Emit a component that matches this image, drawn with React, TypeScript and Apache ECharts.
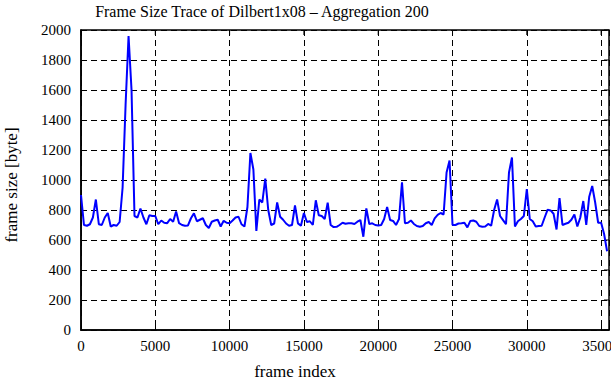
import React, { useEffect, useRef } from "react";
import * as echarts from "echarts";

const TITLE = "Frame Size Trace of Dilbert1x08 \u2013 Aggregation 200";
const X_NAME = "frame index";
const Y_NAME = "frame size [byte]";
const AGGREGATION = 200;
const X_MAX = 35530;
const Y_MAX = 2000;
const xTicks = [0, 5000, 10000, 15000, 20000, 25000, 30000, 35000];
const yTicks = [0, 200, 400, 600, 800, 1000, 1200, 1400, 1600, 1800, 2000];

// aggregated frame sizes (one value per 200 frames)
const frameSizes = [
  900, 700, 695, 705, 750, 870, 705, 700, 750, 780,
  690, 700, 695, 720, 950, 1500, 1960, 1600, 760, 750,
  810, 750, 705, 765, 760, 760, 705, 730, 715, 712,
  740, 722, 790, 712, 700, 695, 697, 745, 778, 725,
  735, 745, 700, 680, 722, 730, 735, 690, 728, 715,
  712, 730, 750, 755, 705, 690, 820, 1180, 1070, 660,
  870, 850, 1010, 800, 700, 710, 850, 755, 735, 710,
  695, 700, 830, 711, 695, 780, 720, 725, 700, 865,
  765, 760, 740, 849, 700, 686, 688, 700, 715, 708,
  711, 711, 707, 722, 733, 622, 811, 707, 711, 700,
  697, 700, 740, 820, 733, 727, 700, 740, 985, 712,
  715, 730, 707, 693, 689, 693, 712, 720, 700, 744,
  767, 780, 770, 1050, 1130, 700, 700, 710, 712, 715,
  684, 727, 730, 722, 693, 689, 690, 707, 695, 800,
  870, 760, 733, 705, 1050, 1150, 690, 725, 740, 760,
  940, 740, 725, 690, 693, 695, 750, 802, 797, 775,
  670, 880, 700, 708, 715, 735, 770, 690, 750, 860,
  700, 889, 960, 850, 715, 715, 640, 525,
];

const FONT = "Liberation Serif";

export default function App() {
  const ref = useRef<HTMLDivElement>(null);
  useEffect(() => {
    if (!ref.current) return;
    const chart = echarts.init(ref.current, undefined, { renderer: "svg" });
    const data = frameSizes.map((v, i) => [i * AGGREGATION, v]);
    chart.setOption({
      animation: false,
      backgroundColor: "#fff",
      grid: {
        left: 81, right: 2, top: 30, bottom: 50,
        show: true, borderColor: "#000", borderWidth: 1.5, backgroundColor: "transparent",
      },
      xAxis: {
        type: "value", min: 0, max: X_MAX, interval: 5000,
        axisLine: { show: true, lineStyle: { color: "#000", width: 1.5 } },
        axisTick: { show: true, inside: true, length: 5, lineStyle: { color: "#000", width: 1 } },
        splitLine: { show: true, lineStyle: { color: "#000", width: 1, type: [6, 4] } },
        axisLabel: { show: false },
      },
      yAxis: {
        type: "value", min: 0, max: Y_MAX, interval: 200,
        axisLine: { show: true, lineStyle: { color: "#000", width: 1.5 } },
        axisTick: { show: true, inside: true, length: 5, lineStyle: { color: "#000", width: 1 } },
        splitLine: { show: true, lineStyle: { color: "#000", width: 1, type: [6, 4] } },
        axisLabel: { show: false },
      },
      series: [
        {
          type: "line", data, showSymbol: false,
          lineStyle: { color: "#0000ff", width: 2 }, itemStyle: { color: "#0000ff" },
          z: 5,
        },
      ],
    });

    // tick labels and mirrored ticks, positioned through the chart's own scales
    const px = (v: number) => chart.convertToPixel({ xAxisIndex: 0 }, v) as number;
    const py = (v: number) => chart.convertToPixel({ yAxisIndex: 0 }, v) as number;
    const x0 = px(0);
    const x1 = px(X_MAX);
    const y0 = py(0);
    const y1 = py(Y_MAX);
    const textStyle = { fontFamily: FONT, fontSize: 15, fill: "#000" };
    const elements: any[] = [];
    xTicks.forEach((v) => {
      const x = px(v);
      elements.push({
        type: "text", x, y: y0 + 8, silent: true,
        style: { ...textStyle, text: String(v), textAlign: "center", textVerticalAlign: "top" },
      });
      elements.push({
        type: "line", silent: true,
        shape: { x1: x, y1: y1, x2: x, y2: y1 + 5 },
        style: { stroke: "#000", lineWidth: 1 },
      });
    });
    yTicks.forEach((v) => {
      const y = py(v);
      elements.push({
        type: "text", x: x0 - 10, y, silent: true,
        style: { ...textStyle, text: String(v), textAlign: "right", textVerticalAlign: "middle" },
      });
      elements.push({
        type: "line", silent: true,
        shape: { x1: x1, y1: y, x2: x1 - 5, y2: y },
        style: { stroke: "#000", lineWidth: 1 },
      });
    });
    elements.push(
      {
        type: "text", x: 262, y: 11,
        style: { text: TITLE, fontFamily: FONT, fontSize: 16, fill: "#000", textAlign: "center", textVerticalAlign: "middle" },
      },
      {
        type: "text", x: 295, y: 371,
        style: { text: X_NAME, fontFamily: FONT, fontSize: 17, fill: "#000", textAlign: "center", textVerticalAlign: "middle" },
      },
      {
        type: "text", x: 11, y: 185, rotation: Math.PI / 2,
        style: { text: Y_NAME, fontFamily: FONT, fontSize: 17, fill: "#000", textAlign: "center", textVerticalAlign: "middle" },
      }
    );
    chart.setOption({ graphic: { elements } });
    return () => chart.dispose();
  }, []);
  return <div ref={ref} style={{ position: "fixed", left: 0, top: 0, width: 611, height: 380 }} />;
}
